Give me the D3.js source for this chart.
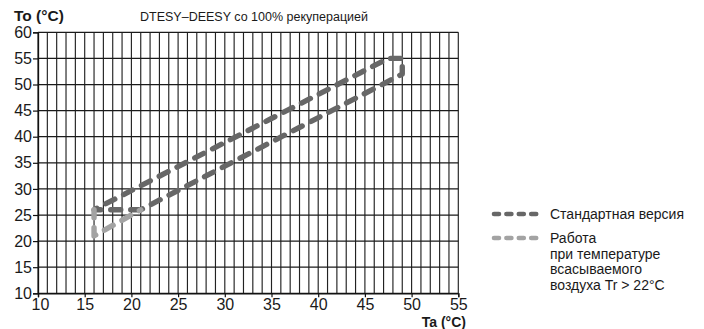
<!DOCTYPE html>
<html>
<head>
<meta charset="utf-8">
<script src="https://cdn.jsdelivr.net/npm/d3@7/dist/d3.min.js"></script>
<style>
  html, body { margin: 0; padding: 0; background: #fff; }
  svg { display: block; font-family: "Liberation Sans", Arial, Helvetica, sans-serif; }
</style>
</head>
<body>
<svg id="chart" width="704" height="329"></svg>
<script>
// ---- data ----
const title = "DTESY–DEESY со 100% рекуперацией";
const yTitle = "To (°C)";
const xTitle = "Ta (°C)";
const xTicks = [10, 15, 20, 25, 30, 35, 40, 45, 50, 55];
const yTicks = [10, 15, 20, 25, 30, 35, 40, 45, 50, 55, 60];
// Standard version envelope (Ta, To)
const standardTa = [21, 16, 47.5, 49, 49, 21];
const standardTo = [26, 26, 55, 55, 52, 26];
// Operation with intake air temperature Tr > 22°C
const warmTa = [16, 16, 21];
const warmTo = [26, 21, 26];
const legendLabels = [["Стандартная версия"], ["Работа", "при температуре", "всасываемого", "воздуха Tr > 22°C"]];
const seriesColors = ["#676767", "#a3a3a3"];

// ---- chart ----
const svg = d3.select("#chart");
const x = d3.scaleLinear().domain([10, 55]).range([38, 458.3]);
const y = d3.scaleLinear().domain([10, 60]).range([293.3, 32.3]);

// vertical grid every degree
svg.append("g").selectAll("line")
  .data(d3.range(10, 56, 1))
  .join("line")
  .attr("x1", d => x(d)).attr("x2", d => x(d))
  .attr("y1", y(60)).attr("y2", y(10))
  .attr("stroke", "#222").attr("stroke-width", 1.15);

// horizontal grid every 5
svg.append("g").selectAll("line")
  .data(yTicks)
  .join("line")
  .attr("x1", x(10)).attr("x2", x(55))
  .attr("y1", d => y(d)).attr("y2", d => y(d))
  .attr("stroke", "#1a1a1a").attr("stroke-width", 1.25);

// axes
const yAxis = svg.append("g").attr("transform", `translate(${x(10)},0)`)
  .call(d3.axisLeft(y).tickValues(yTicks).tickSize(5).tickPadding(1));
const xAxis = svg.append("g").attr("transform", `translate(0,${y(10)})`)
  .call(d3.axisBottom(x).tickValues(xTicks).tickSize(4).tickPadding(1));
[yAxis, xAxis].forEach(a => {
  a.select(".domain").attr("stroke", "#111").attr("stroke-width", 1.3);
  a.selectAll(".tick line").attr("stroke", "#111").attr("stroke-width", 1.2);
  a.selectAll(".tick text").attr("fill", "#1a1a1a")
    .style("font-size", "16px").style("font-family", "'Liberation Sans', Arial, sans-serif");
});
xAxis.selectAll(".tick text").filter(d => d === 10).attr("x", 2);

// series lines
const line = d3.line().x(d => x(d[0])).y(d => y(d[1]));
const standardPts = standardTa.map((t, i) => [t, standardTo[i]]);
const warmPts = warmTa.map((t, i) => [t, warmTo[i]]);

svg.append("path").datum(standardPts)
  .attr("d", line).attr("fill", "none")
  .attr("stroke", seriesColors[0]).attr("stroke-width", 5.4)
  .attr("stroke-linecap", "round").attr("stroke-linejoin", "round")
  .attr("stroke-dasharray", "10,10");
svg.append("path").datum(warmPts)
  .attr("d", line).attr("fill", "none")
  .attr("stroke", seriesColors[1]).attr("stroke-width", 5.4)
  .attr("stroke-linecap", "round").attr("stroke-linejoin", "round")
  .attr("stroke-dasharray", "10,10").attr("stroke-dashoffset", 2);

// titles
svg.append("text").attr("x", 14).attr("y", 21)
  .style("font-size", "15.5px").style("font-weight", "bold").attr("fill", "#1a1a1a").text(yTitle);
svg.append("text").attr("x", 140).attr("y", 21)
  .style("font-size", "12.5px").attr("fill", "#1a1a1a").text(title);
svg.append("text").attr("x", 466).attr("y", 326.5).attr("text-anchor", "end")
  .style("font-size", "14px").style("font-weight", "bold").attr("fill", "#1a1a1a").text(xTitle);

// legend
const legend = svg.append("g");
const legendY = [214, 238];
legendLabels.forEach((lines, i) => {
  legend.append("line")
    .attr("x1", 494).attr("x2", 538).attr("y1", legendY[i]).attr("y2", legendY[i])
    .attr("stroke", seriesColors[i]).attr("stroke-width", 4.6)
    .attr("stroke-linecap", "round").attr("stroke-dasharray", "5,7.4");
  const t = legend.append("text").attr("x", 550).attr("y", legendY[i] + 4.8)
    .style("font-size", "14px").attr("fill", "#1a1a1a");
  lines.forEach((s, j) => {
    t.append("tspan").attr("x", 550).attr("dy", j === 0 ? 0 : 15.8).text(s);
  });
});
</script>
</body>
</html>
